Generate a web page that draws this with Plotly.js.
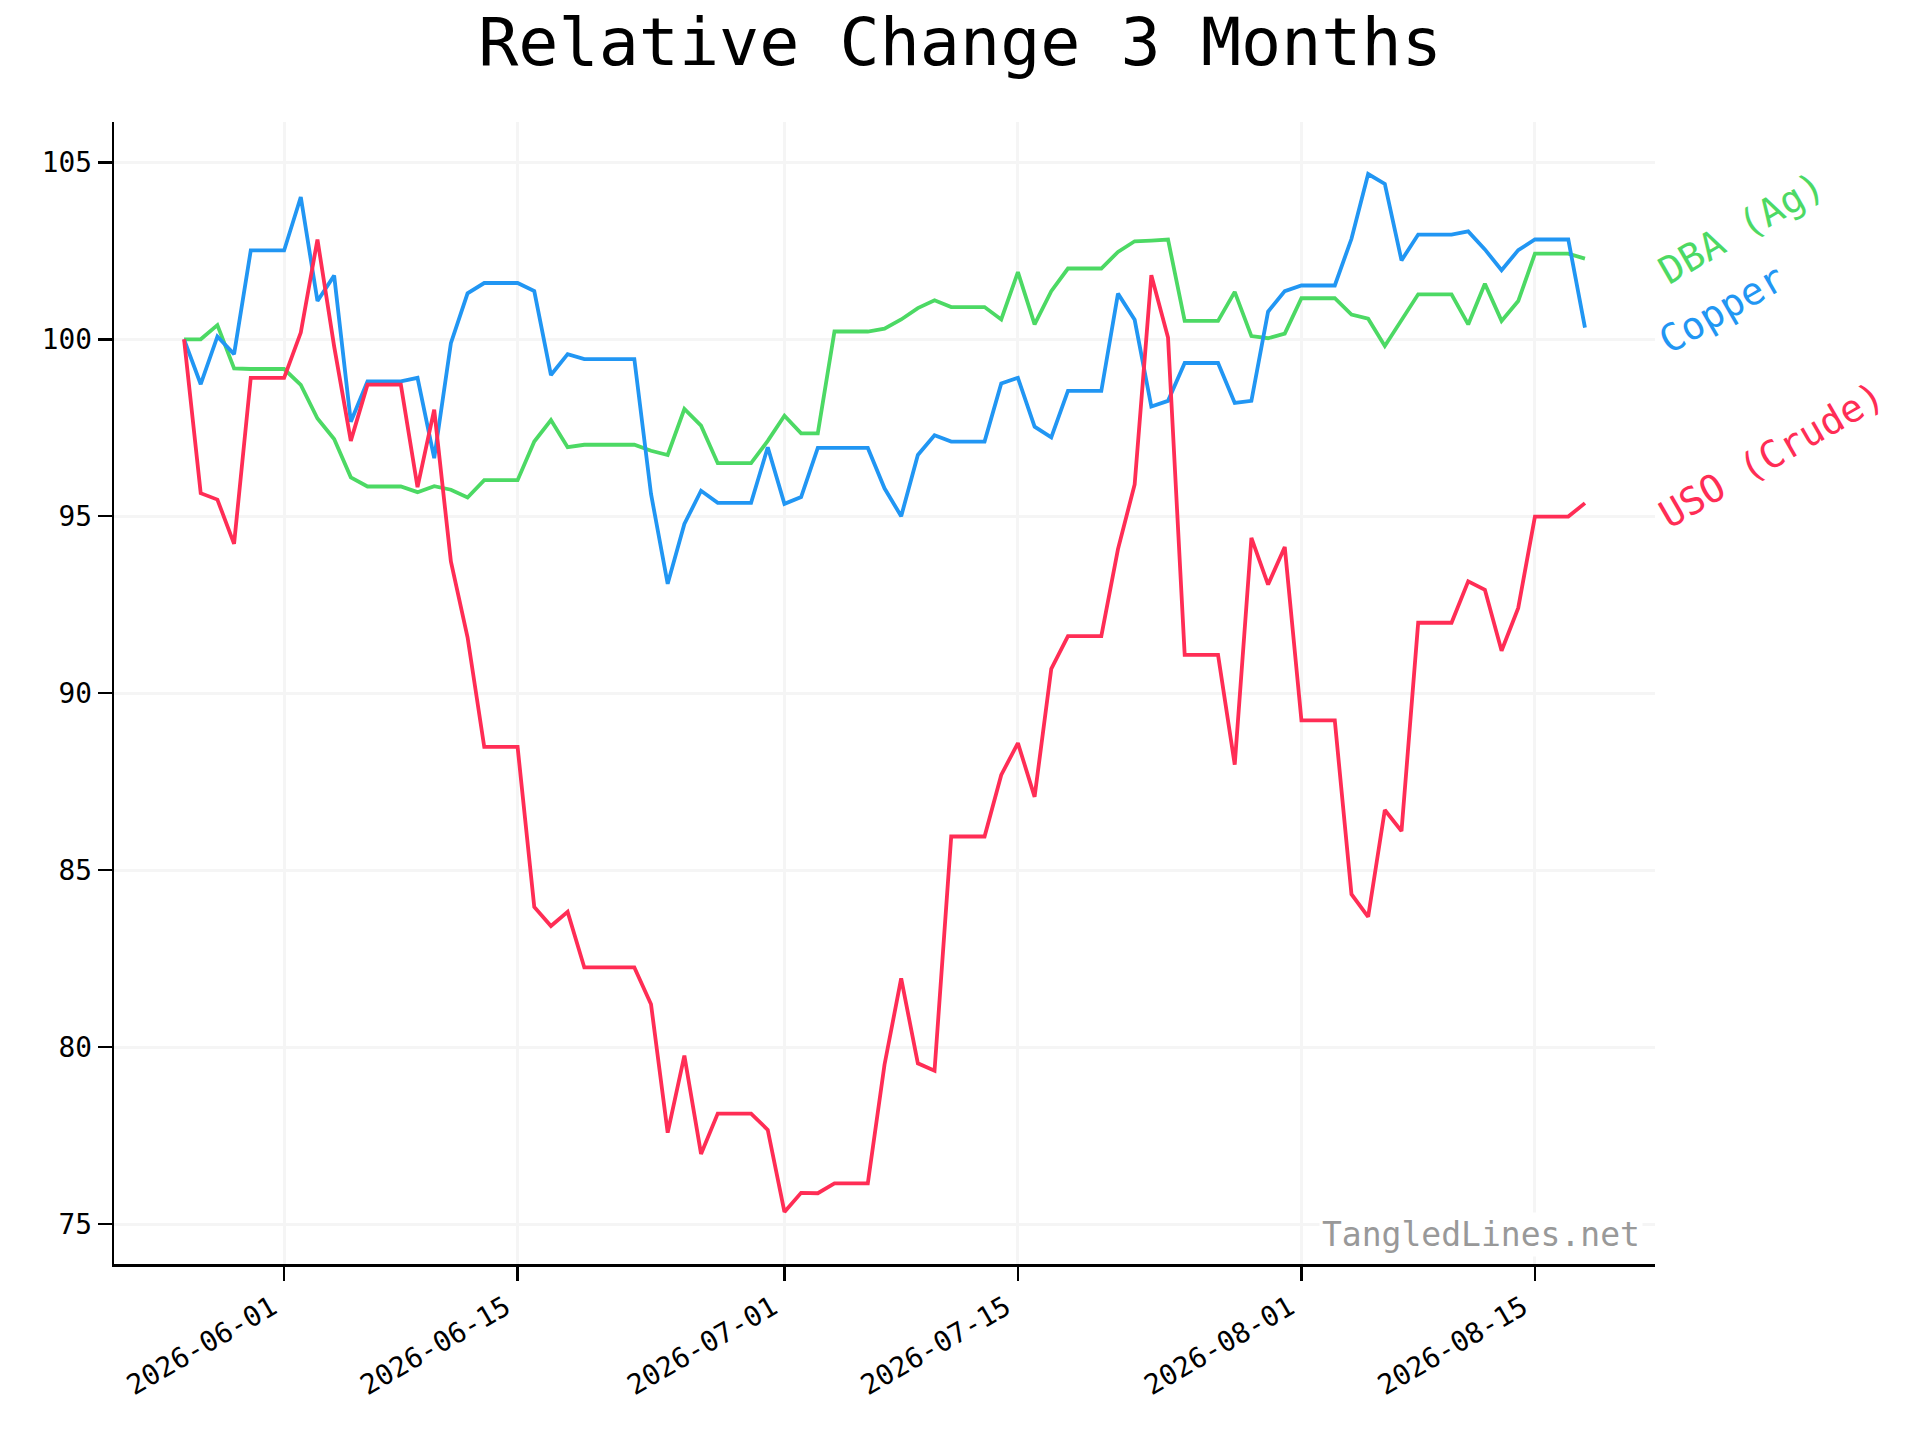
<!DOCTYPE html>
<html>
<head>
<meta charset="utf-8">
<script src="https://cdn.plot.ly/plotly-3.0.1.min.js"></script>
<style>
  html, body { margin: 0; padding: 0; background: #ffffff; }
  #chart { width: 1920px; height: 1440px; }
</style>
</head>
<body>
<div id="chart"></div>
<script>
const dates = [
  "2026-05-26","2026-05-27","2026-05-28","2026-05-29","2026-05-30","2026-05-31",
  "2026-06-01","2026-06-02","2026-06-03","2026-06-04","2026-06-05","2026-06-06","2026-06-07","2026-06-08","2026-06-09","2026-06-10",
  "2026-06-11","2026-06-12","2026-06-13","2026-06-14","2026-06-15","2026-06-16","2026-06-17","2026-06-18","2026-06-19","2026-06-20",
  "2026-06-21","2026-06-22","2026-06-23","2026-06-24","2026-06-25","2026-06-26","2026-06-27","2026-06-28","2026-06-29","2026-06-30",
  "2026-07-01","2026-07-02","2026-07-03","2026-07-04","2026-07-05","2026-07-06","2026-07-07","2026-07-08","2026-07-09","2026-07-10",
  "2026-07-11","2026-07-12","2026-07-13","2026-07-14","2026-07-15","2026-07-16","2026-07-17","2026-07-18","2026-07-19","2026-07-20",
  "2026-07-21","2026-07-22","2026-07-23","2026-07-24","2026-07-25","2026-07-26","2026-07-27","2026-07-28","2026-07-29","2026-07-30","2026-07-31",
  "2026-08-01","2026-08-02","2026-08-03","2026-08-04","2026-08-05","2026-08-06","2026-08-07","2026-08-08","2026-08-09","2026-08-10",
  "2026-08-11","2026-08-12","2026-08-13","2026-08-14","2026-08-15","2026-08-16","2026-08-17","2026-08-18"
];

const copper = [
  100.00, 98.73, 100.08, 99.58, 102.51, 102.51,
  102.51, 104.02, 101.08, 101.80, 97.67, 98.81, 98.81, 98.81, 98.91, 96.64,
  99.89, 101.30, 101.59, 101.59, 101.59, 101.36, 98.99, 99.58, 99.44, 99.44,
  99.44, 99.44, 95.63, 93.09, 94.78, 95.72, 95.38, 95.38, 95.38, 96.95,
  95.35, 95.54, 96.93, 96.93, 96.93, 96.93, 95.79, 95.00, 96.73, 97.29,
  97.11, 97.11, 97.11, 98.75, 98.91, 97.53, 97.23, 98.54, 98.54, 98.54,
  101.29, 100.55, 98.10, 98.26, 99.33, 99.33, 99.33, 98.20, 98.26, 100.78, 101.36,
  101.52, 101.52, 101.52, 102.84, 104.67, 104.39, 102.23, 102.96, 102.96, 102.96,
  103.05, 102.54, 101.95, 102.52, 102.82, 102.82, 102.82, 100.33
];

const dba = [
  100.00, 100.00, 100.40, 99.18, 99.16, 99.16,
  99.16, 98.71, 97.76, 97.18, 96.10, 95.84, 95.84, 95.84, 95.68, 95.85,
  95.75, 95.53, 96.02, 96.02, 96.02, 97.11, 97.72, 96.95, 97.02, 97.02,
  97.02, 97.02, 96.85, 96.73, 98.03, 97.56, 96.50, 96.50, 96.50, 97.13,
  97.84, 97.34, 97.34, 100.22, 100.22, 100.22, 100.30, 100.56, 100.88, 101.10,
  100.91, 100.91, 100.91, 100.56, 101.90, 100.42, 101.36, 102.00, 102.00, 102.00,
  102.47, 102.77, 102.79, 102.82, 100.52, 100.52, 100.52, 101.34, 100.09, 100.03, 100.16,
  101.16, 101.16, 101.16, 100.70, 100.58, 99.81, 100.55, 101.27, 101.27, 101.27,
  100.42, 101.57, 100.52, 101.08, 102.42, 102.42, 102.42, 102.28
];

const uso = [
  100.00, 95.65, 95.47, 94.22, 98.91, 98.91,
  98.91, 100.19, 102.82, 99.80, 97.13, 98.72, 98.72, 98.72, 95.82, 98.01,
  93.72, 91.58, 88.48, 88.48, 88.48, 83.96, 83.42, 83.82, 82.25, 82.25,
  82.25, 82.25, 81.21, 77.58, 79.76, 76.98, 78.12, 78.12, 78.12, 77.66,
  75.34, 75.88, 75.87, 76.15, 76.15, 76.15, 79.50, 81.94, 79.54, 79.33,
  85.95, 85.95, 85.95, 87.69, 88.59, 87.07, 90.69, 91.61, 91.61, 91.61,
  94.07, 95.90, 101.81, 100.05, 91.08, 91.08, 91.08, 87.98, 94.39, 93.07, 94.13,
  89.23, 89.23, 89.23, 84.32, 83.68, 86.70, 86.10, 91.99, 91.99, 91.99,
  93.16, 92.92, 91.20, 92.41, 94.99, 94.99, 94.99, 95.37
];

const seriesNames = ["DBA (Ag)", "Copper", "USO (Crude)"];
const seriesColors = ["#4cd964", "#2196f3", "#ff2d55"];
const seriesValues = [dba, copper, uso];

const xTickVals = ["2026-06-01","2026-06-15","2026-07-01","2026-07-15","2026-08-01","2026-08-15"];
const xTickText = ["2026-06-01","2026-06-15","2026-07-01","2026-07-15","2026-08-01","2026-08-15"];
const yTickVals = [75, 80, 85, 90, 95, 100, 105];
const yTickText = ["75", "80", "85", "90", "95", "100", "105"];

const FONT = "DejaVu Sans Mono, monospace";

const traces = seriesValues.map((vals, i) => ({
  type: "scatter",
  mode: "lines",
  x: dates,
  y: vals,
  name: seriesNames[i],
  line: { color: seriesColors[i], width: 3.8 },
  hoverinfo: "skip"
}));

const labelAnnotations = seriesValues.map((vals, i) => ({
  xref: "paper", yref: "y",
  x: 0.996, y: vals[vals.length - 1],
  xanchor: "left", yanchor: "bottom",
  yshift: -37,
  text: seriesNames[i],
  textangle: -30,
  showarrow: false,
  font: { family: FONT, size: 38, color: seriesColors[i] }
}));

const layout = {
  width: 1920,
  height: 1440,
  paper_bgcolor: "#ffffff",
  plot_bgcolor: "#ffffff",
  showlegend: false,
  margin: { l: 114, r: 265, t: 122, b: 176 },
  title: {
    text: "Relative Change 3 Months",
    x: 0.5, xref: "container", xanchor: "center",
    y: 0.9708, yref: "container", yanchor: "middle",
    font: { family: FONT, size: 66.7, color: "#000000" }
  },
  xaxis: {
    type: "date",
    range: ["2026-05-21 19:12", "2026-08-22 04:48"],
    tickvals: xTickVals,
    ticktext: xTickText,
    tickangle: -30,
    ticklabelshift: -12,
    ticks: "outside",
    ticklen: 14,
    tickwidth: 2.5,
    tickcolor: "#000000",
    showline: true,
    linecolor: "#000000",
    linewidth: 2.5,
    showgrid: true,
    gridcolor: "#f5f5f5",
    gridwidth: 3,
    zeroline: false,
    tickfont: { family: FONT, size: 27.8, color: "#000000" }
  },
  yaxis: {
    range: [73.87, 106.14],
    tickvals: yTickVals,
    ticktext: yTickText,
    ticks: "outside",
    ticklen: 14,
    tickwidth: 2.5,
    tickcolor: "#000000",
    showline: true,
    linecolor: "#000000",
    linewidth: 2.5,
    showgrid: true,
    gridcolor: "#f5f5f5",
    gridwidth: 3,
    zeroline: false,
    tickfont: { family: FONT, size: 27.8, color: "#000000" }
  },
  annotations: labelAnnotations.concat([{
    xref: "paper", yref: "paper",
    x: 0.9922, y: 0.0254,
    xanchor: "right", yanchor: "middle",
    text: "TangledLines.net",
    showarrow: false,
    bgcolor: "#ffffff",
    borderpad: 2,
    font: { family: FONT, size: 33, color: "#999999" }
  }])
};

Plotly.newPlot("chart", traces, layout, { staticPlot: true, displayModeBar: false });
</script>
</body>
</html>
